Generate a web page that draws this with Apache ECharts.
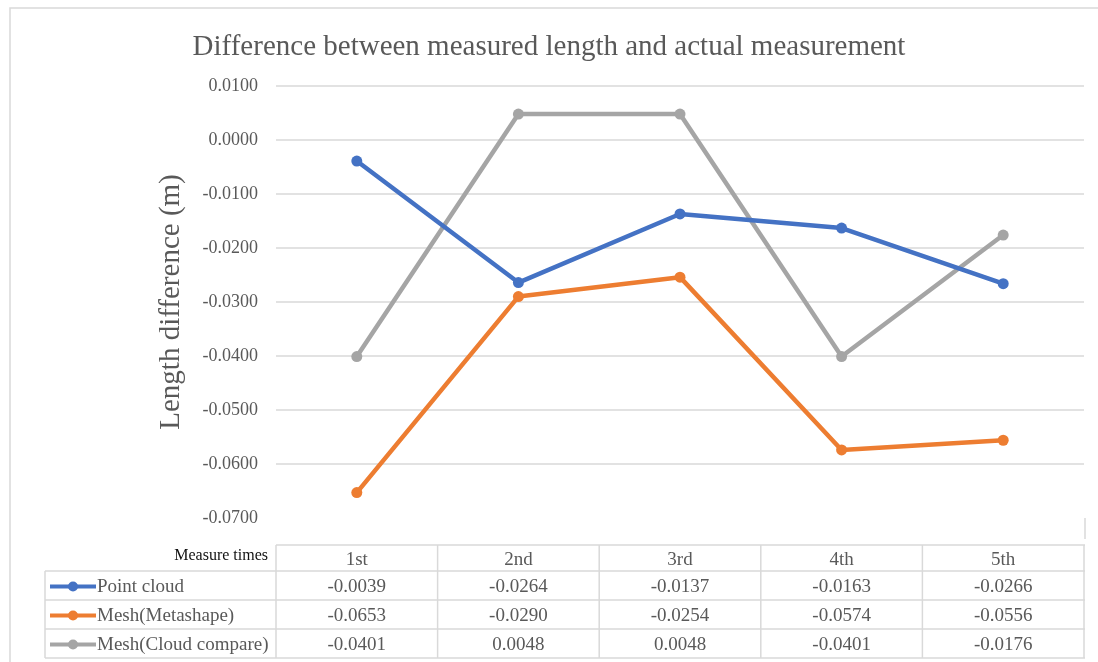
<!DOCTYPE html>
<html>
<head>
<meta charset="utf-8">
<script src="https://cdn.jsdelivr.net/npm/echarts@6/dist/echarts.min.js"></script>
<style>
  html, body { margin: 0; padding: 0; background: #fff; }
  #chart { width: 1098px; height: 662px; }
</style>
</head>
<body>
<div id="chart"></div>
<script>
// Measurement rounds and the length differences (m) of each method
const categories = ['1st', '2nd', '3rd', '4th', '5th'];
const pointCloud = [-0.0039, -0.0264, -0.0137, -0.0163, -0.0266];
const meshMetashape = [-0.0653, -0.0290, -0.0254, -0.0574, -0.0556];
const meshCloudCompare = [-0.0401, 0.0048, 0.0048, -0.0401, -0.0176];
const seriesNames = ['Point cloud', 'Mesh(Metashape)', 'Mesh(Cloud compare)'];
const seriesColors = ['#4472C4', '#ED7D31', '#A5A5A5'];
const seriesValues = [pointCloud, meshMetashape, meshCloudCompare];

const serif = '"Liberation Serif", "Times New Roman", serif';
const textColor = '#595959';
const lineColor = '#D9D9D9';

const chart = echarts.init(document.getElementById('chart'), null, { renderer: 'canvas' });

const option = {
  backgroundColor: '#fff',
  animation: false,
  title: {
    text: 'Difference between measured length and actual measurement',
    left: 'center',
    top: 28,
    textStyle: { fontFamily: serif, fontSize: 29, fontWeight: 'normal', color: textColor }
  },
  grid: { left: 276, right: 14, top: 86, bottom: 144, containLabel: false },
  xAxis: {
    type: 'category',
    data: categories,
    boundaryGap: true,
    axisLine: { show: false },
    axisTick: { show: false },
    axisLabel: { show: false }
  },
  yAxis: {
    type: 'value',
    min: -0.07,
    max: 0.01,
    interval: 0.01,
    name: 'Length difference (m)',
    nameLocation: 'middle',
    nameGap: 90,
    nameTextStyle: { fontFamily: serif, fontSize: 29, color: textColor },
    axisLine: { show: false },
    axisTick: { show: false },
    axisLabel: {
      margin: 18,
      fontFamily: serif,
      fontSize: 18,
      color: textColor,
      formatter: v => v.toFixed(4)
    },
    splitLine: { show: true, showMinLine: false, lineStyle: { color: lineColor, width: 1.5 } }
  },
  series: seriesValues.map((vals, i) => ({
    name: seriesNames[i],
    type: 'line',
    data: vals,
    symbol: 'circle',
    symbolSize: 11,
    lineStyle: { width: 4.5, color: seriesColors[i] },
    itemStyle: { color: seriesColors[i] },
    z: i === 2 ? 1 : 3 - i
  }))
};

chart.setOption(option);

// Data table beneath the plot, aligned with the category axis
function buildTable() {
  const els = [];
  const plotLeft = 276;
  const plotRight = 1084;
  const colW = (plotRight - plotLeft) / categories.length;
  const headTop = 545, headBottom = 571;
  const rowTops = [571, 600, 629];
  const rowH = 29;
  const tableLeft = 45;
  const stroke = { stroke: lineColor, lineWidth: 1.5 };

  // outer chart frame
  els.push({ type: 'rect', shape: { x: 10, y: 8, width: 1200, height: 800 },
    style: { fill: null, stroke: lineColor, lineWidth: 1.5 }, silent: true });

  // short tick at the plot's right edge
  els.push({ type: 'line', shape: { x1: plotRight + 1, y1: 518, x2: plotRight + 1, y2: 539 }, style: stroke });

  // header row
  els.push({ type: 'line', shape: { x1: plotLeft, y1: headTop, x2: plotRight + 1, y2: headTop }, style: stroke });
  for (let c = 0; c <= categories.length; c++) {
    const x = plotLeft + c * colW;
    els.push({ type: 'line', shape: { x1: x, y1: headTop, x2: x, y2: headBottom }, style: stroke });
  }
  categories.forEach((cat, c) => {
    const x = chart.convertToPixel({ xAxisIndex: 0 }, c);
    els.push({ type: 'text', style: { text: cat, x: x, y: (headTop + headBottom) / 2 + 2,
      align: 'center', verticalAlign: 'middle', font: '19px ' + serif, fill: textColor } });
  });
  els.push({ type: 'text', style: { text: 'Measure times', x: 268, y: 556,
    align: 'right', verticalAlign: 'middle', font: '16px ' + serif, fill: '#111' } });

  // body rows
  const bottom = rowTops[rowTops.length - 1] + rowH;
  els.push({ type: 'line', shape: { x1: tableLeft, y1: rowTops[0], x2: plotRight + 1, y2: rowTops[0] }, style: stroke });
  rowTops.forEach(t => {
    els.push({ type: 'line', shape: { x1: tableLeft, y1: t + rowH, x2: plotRight + 1, y2: t + rowH }, style: stroke });
  });
  els.push({ type: 'line', shape: { x1: tableLeft, y1: rowTops[0], x2: tableLeft, y2: bottom }, style: stroke });
  for (let c = 0; c <= categories.length; c++) {
    const x = plotLeft + c * colW;
    els.push({ type: 'line', shape: { x1: x, y1: rowTops[0], x2: x, y2: bottom }, style: stroke });
  }

  seriesValues.forEach((vals, r) => {
    const cy = rowTops[r] + rowH / 2 + 1;
    // legend key: line with a circle marker
    els.push({ type: 'line', shape: { x1: 50, y1: cy, x2: 96, y2: cy },
      style: { stroke: seriesColors[r], lineWidth: 4 } });
    els.push({ type: 'circle', shape: { cx: 73, cy: cy, r: 5 }, style: { fill: seriesColors[r] } });
    els.push({ type: 'text', style: { text: seriesNames[r], x: 97, y: cy + 1,
      align: 'left', verticalAlign: 'middle', font: '19px ' + serif, fill: textColor } });
    vals.forEach((v, c) => {
      const x = chart.convertToPixel({ xAxisIndex: 0 }, c);
      els.push({ type: 'text', style: { text: v.toFixed(4), x: x, y: cy + 1,
        align: 'center', verticalAlign: 'middle', font: '19px ' + serif, fill: textColor } });
    });
  });
  return els;
}

chart.setOption({ graphic: { elements: buildTable() } });
</script>
</body>
</html>
